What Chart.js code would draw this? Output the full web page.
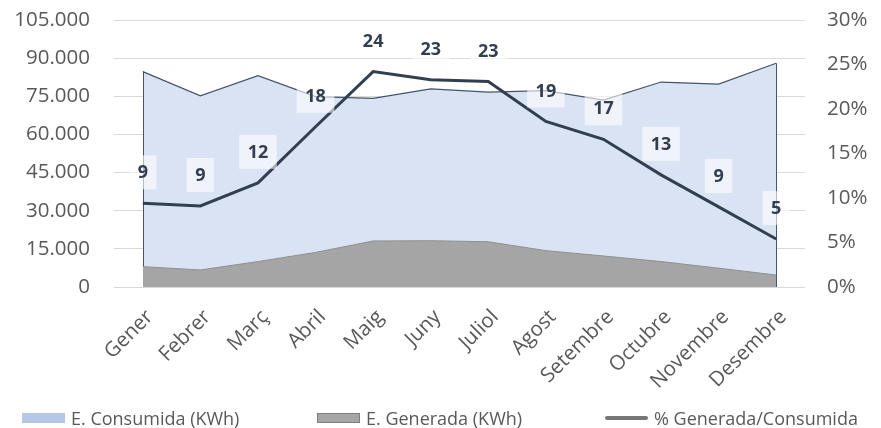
<!DOCTYPE html>
<html>
<head>
<meta charset="utf-8">
<script src="https://cdn.jsdelivr.net/npm/chart.js@4.4.1/dist/chart.umd.min.js"></script>
<style>
  html, body { margin: 0; padding: 0; background: #fff; }
  #wrap { position: relative; width: 881px; height: 428px; }
  #legend { position: absolute; left: 0; top: 407px; width: 881px; height: 22px;
            font: 18px "Open Sans", sans-serif; color: #595959; line-height: 22px; }
  #legend span.item { position: absolute; top: 0; display: flex; align-items: center; white-space: nowrap; }
  #legend i { display: inline-block; width: 43px; margin-right: 6px; box-sizing: border-box; }
</style>
</head>
<body>
<div id="wrap">
  <canvas id="chart"></canvas>
  <div id="legend"></div>
</div>
<script>
const months = ['Gener', 'Febrer', 'Març', 'Abril', 'Maig', 'Juny', 'Juliol', 'Agost', 'Setembre', 'Octubre', 'Novembre', 'Desembre'];
const consumida = [84700, 75200, 83100, 74900, 74200, 77900, 76600, 77200, 73500, 80600, 79800, 88000];
const generada = [8000, 6700, 10000, 13600, 18100, 18200, 17800, 14300, 12200, 10000, 7400, 4700];
const percent = [9.4, 9.1, 11.7, 18.0, 24.2, 23.3, 23.1, 18.6, 16.6, 12.6, 9.0, 5.4];
const leftTicks = [0, 15000, 30000, 45000, 60000, 75000, 90000, 105000];
const rightTicks = [0, 5, 10, 15, 20, 25, 30];

const textColor = '#595959';
const lineColor = '#333f50';

function thousands(v) {
  return String(v).replace(/\B(?=(\d{3})+(?!\d))/g, '.');
}

// edges of the consumed area (Excel draws the full outline)
const areaEdges = {
  id: 'areaEdges',
  afterDatasetDraw(chart, args) {
    if (args.index !== 0) return;
    const pts = args.meta.data;
    const base = chart.scales.y.getPixelForValue(0);
    const c = chart.ctx;
    c.save();
    c.strokeStyle = '#44546a';
    c.lineWidth = 1;
    [pts[0], pts[pts.length - 1]].forEach(p => {
      c.beginPath();
      c.moveTo(Math.round(p.x) + 0.5, p.y);
      c.lineTo(Math.round(p.x) + 0.5, base);
      c.stroke();
    });
    c.restore();
  }
};

// rounded value labels above the % line
const pctLabels = {
  id: 'pctLabels',
  afterDatasetsDraw(chart) {
    const meta = chart.getDatasetMeta(2);
    const c = chart.ctx;
    c.save();
    c.font = 'bold 18px "Open Sans", sans-serif';
    c.textAlign = 'center';
    c.textBaseline = 'middle';
    meta.data.forEach((p, i) => {
      const txt = String(Math.round(percent[i]));
      const w = c.measureText(txt).width + 17;
      const h = 34;
      const cy = p.y - 31;
      c.fillStyle = 'rgba(255,255,255,0.6)';
      c.fillRect(p.x - w / 2, cy - h / 2, w, h);
      c.fillStyle = lineColor;
      c.fillText(txt, p.x, cy + 1);
    });
    c.restore();
  }
};

const ctx = document.getElementById('chart').getContext('2d');
const chart = new Chart(ctx, {
  type: 'line',
  data: {
    labels: months,
    datasets: [{
      label: 'E. Consumida (KWh)',
      data: consumida,
      yAxisID: 'y',
      fill: 'origin',
      backgroundColor: '#dae3f3',
      borderColor: '#44546a',
      borderWidth: 1.2,
      pointRadius: 0,
      tension: 0,
      order: 2
    }, {
      label: 'E. Generada (KWh)',
      data: generada,
      yAxisID: 'y',
      fill: 'origin',
      backgroundColor: '#a5a5a5',
      borderColor: '#8f8f8f',
      borderWidth: 1,
      pointRadius: 0,
      tension: 0,
      order: 1
    }, {
      label: '% Generada/Consumida',
      data: percent,
      yAxisID: 'y1',
      fill: false,
      borderColor: lineColor,
      borderWidth: 3,
      pointRadius: 0,
      tension: 0,
      order: 0
    }]
  },
  options: {
    responsive: true,
    maintainAspectRatio: false,
    animation: false,
    layout: { padding: { left: 12, right: 12, top: 20, bottom: 0 } },
    plugins: {
      legend: { display: false },
      tooltip: { enabled: false }
    },
    scales: {
      x: {
        offset: true,
        grid: { display: false },
        border: { display: false },
        ticks: {
          color: textColor,
          font: { family: '"Open Sans", sans-serif', size: 20.5 },
          minRotation: 45,
          maxRotation: 45,
          padding: 10,
          labelOffset: 7,
          autoSkip: false
        },
        afterFit: s => { s.height = 141; }
      },
      y: {
        position: 'left',
        min: 0,
        max: 105000,
        afterBuildTicks: s => { s.ticks = leftTicks.map(v => ({ value: v })); },
        grid: { color: '#d9d9d9', tickLength: 24, tickColor: 'transparent' },
        border: { display: false },
        ticks: {
          color: textColor,
          font: { family: '"Open Sans", sans-serif', size: 20.5 },
          padding: 0,
          callback: v => thousands(v)
        },
        afterFit: s => { s.width = 102; }
      },
      y1: {
        position: 'right',
        min: 0,
        max: 30,
        afterBuildTicks: s => { s.ticks = rightTicks.map(v => ({ value: v })); },
        grid: { drawOnChartArea: false, tickLength: 22, tickColor: 'transparent' },
        border: { display: false },
        ticks: {
          color: textColor,
          font: { family: '"Open Sans", sans-serif', size: 20.5 },
          padding: 0,
          callback: v => v + '%'
        },
        afterFit: s => { s.width = 64; }
      }
    }
  },
  plugins: [areaEdges, pctLabels]
});

// legend drawn as html below the chart
const legendItems = [
  { text: 'E. Consumida (KWh)', left: 22, css: 'height:10px;background:#b4c7e7;' },
  { text: 'E. Generada (KWh)', left: 317, css: 'height:10px;background:#a5a5a5;border:1px solid #7f7f7f;' },
  { text: '% Generada/Consumida', left: 605, css: 'height:4px;background:#767676;border-radius:2px;' }
];
document.getElementById('legend').innerHTML = legendItems.map(it =>
  '<span class="item" style="left:' + it.left + 'px"><i style="' + it.css + '"></i>' + it.text + '</span>').join('');
</script>
</body>
</html>
